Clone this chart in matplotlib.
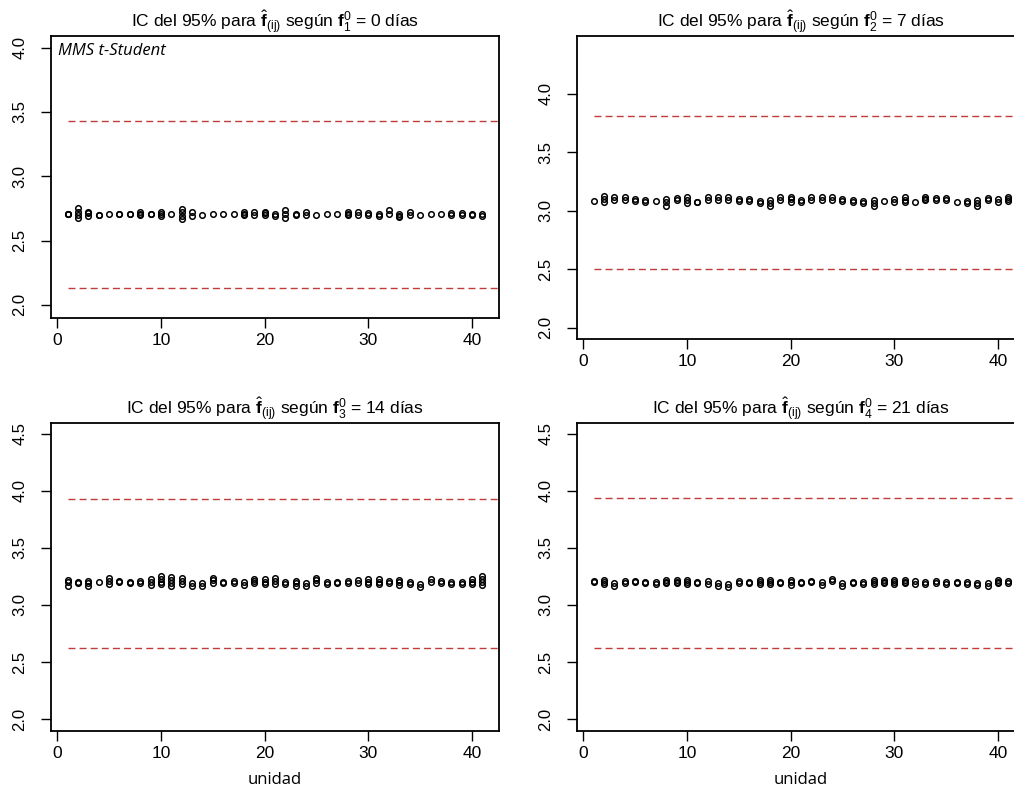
import matplotlib.pyplot as plt

plt.rcParams["font.family"] = ["Liberation Sans", "DejaVu Sans"]
plt.rcParams["mathtext.fontset"] = "custom"
plt.rcParams["mathtext.rm"] = "Liberation Sans"
plt.rcParams["mathtext.it"] = "Liberation Sans:italic"
plt.rcParams["mathtext.bf"] = "Liberation Sans:bold"

units = list(range(1, 42))
days = [0, 7, 14, 21]

# replicate estimates of f for every unit, one list per unit
est_d0 = [
    [2.71, 2.71, 2.705], [2.675, 2.70, 2.725, 2.75], [2.69, 2.715, 2.72], [2.70, 2.70],
    [2.705], [2.71, 2.71], [2.71, 2.71], [2.70, 2.71, 2.72], [2.71, 2.71],
    [2.695, 2.71, 2.72], [2.71], [2.67, 2.695, 2.72, 2.745], [2.695, 2.72], [2.70],
    [2.705], [2.71], [2.71], [2.70, 2.71, 2.72], [2.70, 2.725], [2.70, 2.715, 2.72],
    [2.695, 2.71], [2.675, 2.71, 2.74], [2.70, 2.71], [2.70, 2.72], [2.70], [2.705],
    [2.71], [2.70, 2.71, 2.72], [2.70, 2.72], [2.70, 2.715], [2.695, 2.705],
    [2.71, 2.735], [2.68, 2.695, 2.705], [2.70, 2.72], [2.70], [2.705], [2.71],
    [2.70, 2.715], [2.70, 2.715], [2.70, 2.71], [2.695, 2.705],
]
est_d7 = [
    [3.085], [3.075, 3.10, 3.125], [3.09, 3.115], [3.09, 3.115], [3.085, 3.10],
    [3.075, 3.095], [3.085], [3.045, 3.075, 3.10], [3.095, 3.11], [3.065, 3.09, 3.115],
    [3.075, 3.08], [3.095, 3.12], [3.09, 3.115], [3.09, 3.115], [3.085, 3.10],
    [3.085, 3.10], [3.07, 3.085], [3.045, 3.07, 3.095], [3.09, 3.115],
    [3.08, 3.10, 3.12], [3.075, 3.095], [3.09, 3.115], [3.09, 3.115], [3.095, 3.115],
    [3.085, 3.10], [3.08, 3.095], [3.065, 3.085], [3.04, 3.07, 3.095], [3.085],
    [3.08, 3.10], [3.075, 3.095, 3.115], [3.08], [3.09, 3.105, 3.12], [3.09, 3.11],
    [3.095, 3.11], [3.08], [3.07, 3.085], [3.045, 3.07, 3.09], [3.09, 3.11],
    [3.08, 3.10], [3.085, 3.105, 3.12],
]
est_d14 = [
    [3.17, 3.20, 3.22], [3.19, 3.205], [3.165, 3.19, 3.21], [3.20], [3.185, 3.21, 3.235],
    [3.20, 3.21], [3.19, 3.205], [3.195, 3.21], [3.175, 3.20, 3.225],
    [3.18, 3.205, 3.23, 3.25], [3.17, 3.195, 3.22, 3.245], [3.185, 3.21, 3.235],
    [3.17, 3.195], [3.17, 3.195], [3.19, 3.215, 3.24], [3.195, 3.205], [3.19, 3.21],
    [3.175, 3.20], [3.19, 3.21, 3.23], [3.18, 3.205, 3.23], [3.185, 3.21, 3.235],
    [3.18, 3.20], [3.165, 3.19, 3.21], [3.17, 3.195], [3.19, 3.215, 3.24],
    [3.185, 3.205], [3.19, 3.20], [3.19, 3.21], [3.19, 3.215], [3.18, 3.205, 3.23],
    [3.18, 3.205, 3.23], [3.19, 3.21], [3.175, 3.20, 3.22], [3.185, 3.20], [3.16, 3.185],
    [3.20, 3.225], [3.19, 3.21], [3.185, 3.205], [3.185, 3.20], [3.18, 3.205, 3.23],
    [3.175, 3.20, 3.225, 3.25],
]
est_d21 = [
    [3.20, 3.21], [3.18, 3.20, 3.22], [3.165, 3.19], [3.195, 3.21], [3.20, 3.21],
    [3.19, 3.20], [3.185, 3.20], [3.19, 3.205, 3.22], [3.19, 3.205, 3.22], [3.185, 3.20, 3.22],
    [3.19, 3.205], [3.185, 3.21], [3.17, 3.195], [3.16, 3.185], [3.195, 3.21],
    [3.19, 3.205], [3.185, 3.20, 3.215], [3.18, 3.20, 3.22], [3.19, 3.205], [3.175, 3.20, 3.22],
    [3.19, 3.205], [3.20, 3.21], [3.175, 3.20], [3.21, 3.225], [3.17, 3.195],
    [3.19, 3.205], [3.185, 3.20], [3.18, 3.20, 3.215], [3.19, 3.205, 3.22], [3.185, 3.20, 3.215],
    [3.19, 3.205, 3.22], [3.185, 3.21], [3.18, 3.20], [3.195, 3.21], [3.18, 3.205],
    [3.19, 3.205], [3.18, 3.20], [3.175, 3.195], [3.165, 3.19], [3.19, 3.205, 3.22],
    [3.195, 3.21],
]
estimates = [est_d0, est_d7, est_d14, est_d21]

# 95% t-Student interval limits
ic_upper = [3.43, 3.81, 3.93, 3.94]
ic_lower = [2.13, 2.50, 2.62, 2.62]

y_ranges = [(1.898, 4.091), (1.904, 4.496), (1.895, 4.596), (1.895, 4.596)]
x_ticks = [0, 10, 20, 30, 40]

W, H = 1014, 790
# panel boxes in pixels: left, top, right, bottom
boxes = [(51, 36, 499, 318), (577, 36, 1025, 339), (51, 423, 499, 731), (577, 423, 1025, 731)]

fig = plt.figure(figsize=(W / 100, H / 100), dpi=100)

for k, (l, t, r, b) in enumerate(boxes):
    ax = fig.add_axes([l / W, 1 - b / H, (r - l) / W, (b - t) / H])
    xs, ys = [], []
    for u, vals in zip(units, estimates[k]):
        xs += [u] * len(vals)
        ys += vals
    ax.plot(xs, ys, "o", mfc="none", mec="black", ms=4.0, mew=1.1, clip_on=False)

    ax.set_xlim(-0.6, 42.6)
    ax.set_ylim(*y_ranges[k])
    for lim in (ic_upper[k], ic_lower[k]):
        ax.hlines(lim, units[0], ax.get_xlim()[1], colors="#c23b3b", linestyles=(0, (5, 3)), lw=1.0)

    lo, hi = y_ranges[k]
    yt = [v / 2 for v in range(4, 10) if lo <= v / 2 <= hi]
    ax.set_yticks(yt)
    ax.set_yticklabels([f"{v:.1f}" for v in yt], rotation=90, va="center", fontsize=12)
    ax.set_xticks(x_ticks)
    ax.set_xticklabels([str(v) for v in x_ticks], fontsize=12.5)
    ax.tick_params(length=7, width=1.0, color="black", direction="out")
    ax.tick_params(axis="x", pad=4)
    ax.tick_params(axis="y", pad=10)
    for s in ax.spines.values():
        s.set_linewidth(1.3)

    ax.set_title(rf"IC del 95% para $\hat{{\mathbf{{f}}}}_{{(\mathrm{{ij}})}}$ según "
                 rf"$\mathbf{{f}}_{{{k + 1}}}^{{0}}$ = {days[k]} días", fontsize=12.5, pad=5)
    if k >= 2:
        ax.set_xlabel("unidad", family=["Open Sans", "DejaVu Sans"], fontsize=12, labelpad=8)
    if k == 0:
        ax.text(0.015, 0.975, "MMS t-Student", transform=ax.transAxes, ha="left", va="top",
                style="italic", family=["Open Sans", "DejaVu Sans"], fontsize=12)

fig.savefig("out.png", dpi=100)
